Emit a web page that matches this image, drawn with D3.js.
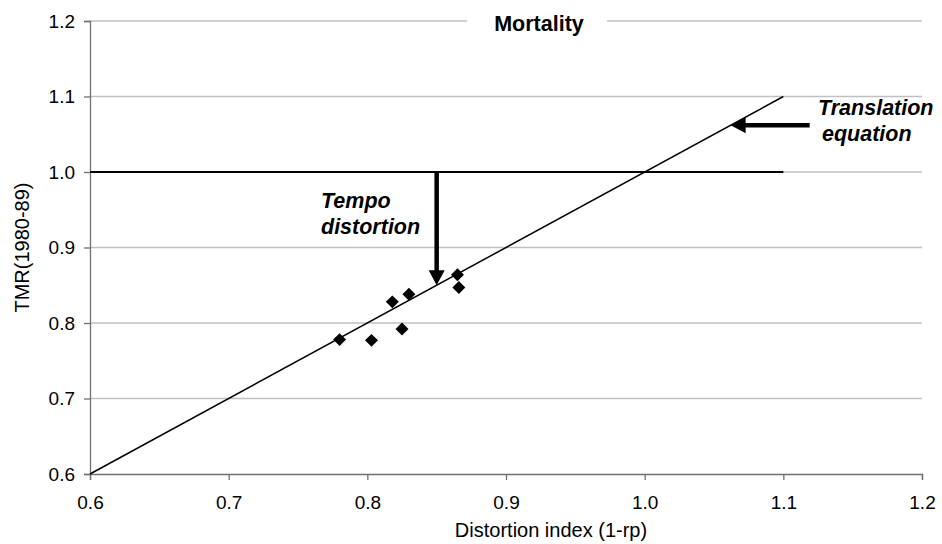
<!DOCTYPE html>
<html>
<head>
<meta charset="utf-8">
<script src="https://cdn.jsdelivr.net/npm/d3@7"></script>
<style>
  body { margin: 0; background: #fff; }
  svg { display: block; font-family: "Liberation Sans", Arial, sans-serif; }
</style>
</head>
<body>
<svg id="chart" width="942" height="544"></svg>
<script>
// values
const distortionIndex = [0.780, 0.803, 0.825, 0.818, 0.830, 0.865, 0.866];
const tmr = [0.778, 0.777, 0.792, 0.828, 0.838, 0.864, 0.847];
const xTicks = [0.6, 0.7, 0.8, 0.9, 1.0, 1.1, 1.2];
const yTicks = [0.6, 0.7, 0.8, 0.9, 1.0, 1.1, 1.2];
const translationLine = [[0.6, 0.6], [1.1, 1.1]];
const referenceLine = [[0.6, 1.0], [1.1, 1.0]];
const tempoArrow = [[0.85, 1.0], [0.85, 0.85]];
const translationArrow = [[1.119, 1.062], [1.062, 1.062]];

const svg = d3.select("#chart");
const width = 942, height = 544;
const margin = { top: 21, right: 20, bottom: 70, left: 90 };

const x = d3.scaleLinear().domain([0.6, 1.2]).range([margin.left, width - margin.right]);
const y = d3.scaleLinear().domain([0.6, 1.2]).range([height - margin.bottom, margin.top]);

// gridlines
svg.append("g")
  .selectAll("line")
  .data(yTicks.slice(1))
  .join("line")
  .attr("x1", x(0.6)).attr("x2", x(1.2))
  .attr("y1", d => y(d)).attr("y2", d => y(d))
  .attr("stroke", "#c0c0c0")
  .attr("stroke-width", 1.5);

// axes
const xAxis = svg.append("g")
  .attr("transform", `translate(0,${y(0.6)})`)
  .call(d3.axisBottom(x).tickValues(xTicks).tickFormat(d3.format(".1f")).tickSize(6).tickPadding(16));
const yAxis = svg.append("g")
  .attr("transform", `translate(${x(0.6)},0)`)
  .call(d3.axisLeft(y).tickValues(yTicks).tickFormat(d3.format(".1f")).tickSize(6).tickPadding(9));

[xAxis, yAxis].forEach(g => {
  g.selectAll(".domain, .tick line").attr("stroke", "#707070").attr("stroke-width", 1.3);
  g.selectAll(".tick text").attr("fill", "#000").style("font-size", "19px");
  g.attr("font-family", null);
});

const line = d3.line().x(d => x(d[0])).y(d => y(d[1]));

svg.append("path")
  .attr("d", line(referenceLine))
  .attr("stroke", "#000").attr("stroke-width", 2).attr("fill", "none");

svg.append("path")
  .attr("d", line(translationLine))
  .attr("stroke", "#000").attr("stroke-width", 1.5).attr("fill", "none");

// title sits on the top gridline with a white box
const title = svg.append("g");
title.append("rect")
  .attr("x", 467).attr("y", y(1.2) - 4)
  .attr("width", 140).attr("height", 8)
  .attr("fill", "#fff");
title.append("text")
  .attr("x", 539).attr("y", 31)
  .attr("text-anchor", "middle")
  .style("font-size", "21.5px").style("font-weight", "bold")
  .text("Mortality");

// points
svg.append("g")
  .selectAll("path")
  .data(distortionIndex)
  .join("path")
  .attr("d", d3.symbol(d3.symbolSquare, 84))
  .attr("transform", (d, i) => `translate(${x(d)},${y(tmr[i])}) rotate(45)`)
  .attr("fill", "#000");

// arrows: thick shaft plus a filled head, tip on the end point
const headLen = 15, headHalf = 8;
function arrow(a) {
  const x0 = x(a[0][0]), y0 = y(a[0][1]);
  const x1 = x(a[1][0]), y1 = y(a[1][1]);
  const len = Math.hypot(x1 - x0, y1 - y0);
  const ux = (x1 - x0) / len, uy = (y1 - y0) / len;
  const bx = x1 - ux * headLen, by = y1 - uy * headLen;
  svg.append("line")
    .attr("x1", x0).attr("y1", y0).attr("x2", bx + ux).attr("y2", by + uy)
    .attr("stroke", "#000").attr("stroke-width", 4.5);
  svg.append("path")
    .attr("d", `M${x1},${y1}L${bx - uy * headHalf},${by + ux * headHalf}L${bx + uy * headHalf},${by - ux * headHalf}Z`)
    .attr("fill", "#000");
}
arrow(tempoArrow);
arrow(translationArrow);

const note = (lines, x0, y0, dx) => {
  const t = svg.append("text")
    .style("font-size", "21.5px").style("font-weight", "bold").style("font-style", "italic");
  lines.forEach((s, i) => t.append("tspan").attr("x", x0 + (dx[i] || 0)).attr("y", y0 + i * 26).text(s));
};
note(["Tempo", "distortion"], 321, 208, [0, 0]);
note(["Translation", "equation"], 818, 115, [0, 4]);

// axis titles
svg.append("text")
  .attr("x", (x(0.6) + x(1.2)) / 2 + 45).attr("y", 537)
  .attr("text-anchor", "middle")
  .style("font-size", "20px")
  .text("Distortion index (1-rp)");

svg.append("text")
  .attr("transform", `translate(29,${(y(0.6) + y(1.2)) / 2}) rotate(-90)`)
  .attr("text-anchor", "middle")
  .style("font-size", "20px")
  .text("TMR(1980-89)");
</script>
</body>
</html>
